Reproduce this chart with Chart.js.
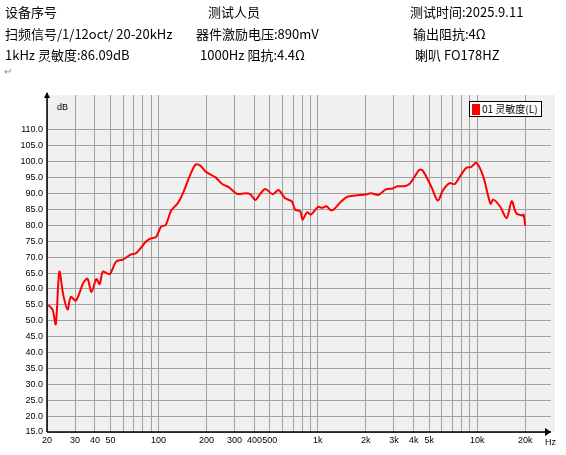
<!DOCTYPE html>
<html><head><meta charset="utf-8">
<script src="https://cdn.jsdelivr.net/npm/chart.js@4/dist/chart.umd.min.js"></script>
<style>
body{margin:0;background:#fff;font-family:"Noto Sans CJK SC",sans-serif;}
#wrap{position:relative;width:566px;height:455px;}
canvas{position:absolute;left:0;top:0;}
.t{position:absolute;font-size:13px;color:#000;white-space:nowrap;line-height:16px;}
.s{position:absolute;font-size:9px;font-family:Arial,"Liberation Sans",sans-serif;}
#legend{position:absolute;left:469px;top:101px;border:1px solid #000;background:#fff;font-size:10px;padding:0 3px 0 2px;line-height:14px;}
#legend i{display:inline-block;width:8px;height:11px;background:#f00;vertical-align:-2px;margin-right:2px;}
</style></head><body>
<div id="wrap">
<canvas id="c" width="566" height="455"></canvas>
<div class="t" style="left:5px;top:4px">设备序号</div>
<div class="t" style="left:208px;top:4px">测试人员</div>
<div class="t" style="left:410px;top:4px">测试时间:2025.9.11</div>
<div class="t" style="left:5px;top:26px">扫频信号/1/12oct/ 20-20kHz</div>
<div class="t" style="left:196px;top:26px">器件激励电压:890mV</div>
<div class="t" style="left:413px;top:26px">输出阻抗:4Ω</div>
<div class="t" style="left:5px;top:47px">1kHz 灵敏度:86.09dB</div>
<div class="t" style="left:200px;top:47px">1000Hz 阻抗:4.4Ω</div>
<div class="t" style="left:415px;top:47px">喇叭 FO178HZ</div>
<div class="s" style="left:4px;top:66px;color:#888;font-size:10px">↵</div>
<div class="s" style="left:57px;top:102px">dB</div>
<div class="s" style="left:545px;top:437px">Hz</div>
<div id="legend"><i></i>01 灵敏度(L)</div>
</div>
<script>
const freqs = [20.4,21.7,22.7,23.9,25.3,26.9,28.2,30.4,33.7,35.9,38,40.8,42.8,44.9,49.4,54.3,59.7,67.4,72.4,83.6,89.8,96.4,104,111,120,132,141,160,171,184,198,228,251,276,311,351,377,405,435,468,522,566,624,687,721,776,802,855,906,1003,1062,1132,1200,1259,1387,1530,1726,1995,2147,2400,2669,2942,3164,3487,3751,4031,4334,4549,5133,5656,6080,6703,7216,7749,8539,9183,9868,10880,12100,12590,13870,15280,16440,17510,19010,19500,20000];
const spl = [54.9,53.4,48.9,65.4,58.1,53.5,57.5,56.3,61.8,63.2,59,63.1,61.5,65.5,64.6,68.6,69.2,70.9,71.2,74.9,75.9,76.3,79.6,80.1,84.6,86.9,89.6,96.4,99.1,98.7,96.9,95.1,93.0,92.0,89.9,90.1,89.8,88.0,89.9,91.4,89.8,91.1,88.5,87.5,84.9,84.4,81.8,84.1,83.4,85.8,85.5,86.0,84.8,85,87.3,89.0,89.4,89.7,90.1,89.6,91.3,91.6,92.3,92.3,93.0,95.2,97.5,97.2,92.3,87.8,91.0,93.3,93.0,95.2,98.1,98.4,99.7,95.5,86.8,88.1,86,82.3,87.6,83.9,83.1,83.4,79.9];
const xTicks = [20,30,40,50,60,70,80,90,100,200,300,400,500,600,700,800,900,1000,2000,3000,4000,5000,6000,7000,8000,9000,10000,20000];
const xLabels = {20:'20',30:'30',40:'40',50:'50',100:'100',200:'200',300:'300',400:'400',500:'500',1000:'1k',2000:'2k',3000:'3k',4000:'4k',5000:'5k',10000:'10k',20000:'20k'};
const yTicks = [15,20,25,30,35,40,45,50,55,60,65,70,75,80,85,90,95,100,105,110];

const frame = {
  id: 'frame',
  beforeDraw(ch) {
    const a = ch.chartArea, c = ch.ctx;
    c.fillStyle = '#f0f0f0';
    c.fillRect(a.left, a.top, a.right - a.left + 4, a.bottom - a.top);
  },
  afterDraw(ch) {
    const a = ch.chartArea, c = ch.ctx;
    c.save();
    c.strokeStyle = '#000'; c.fillStyle = '#000'; c.lineWidth = 1.5;
    c.beginPath();
    c.moveTo(a.left, a.bottom); c.lineTo(a.left, a.top - 2);
    c.moveTo(a.left, a.bottom); c.lineTo(a.right, a.bottom);
    c.stroke();
    c.beginPath(); c.moveTo(a.left - 3, a.top + 3); c.lineTo(a.left, a.top - 3); c.lineTo(a.left + 3, a.top + 3); c.fill();
    c.beginPath(); c.moveTo(a.right - 6, a.bottom - 4); c.lineTo(a.right, a.bottom); c.lineTo(a.right - 6, a.bottom + 4); c.fill();
    c.restore();
  }
};

new Chart(document.getElementById('c'), {
  type: 'line',
  data: { datasets: [{ data: freqs.map((f, i) => ({x: f, y: spl[i]})), borderColor: '#ff0000', borderWidth: 2, pointRadius: 0, tension: 0.3 }] },
  options: {
    responsive: false, animation: false,
    layout: { padding: { top: 95, right: 15, left: 0, bottom: 0 } },
    plugins: { legend: { display: false }, tooltip: { enabled: false } },
    scales: {
      x: {
        type: 'logarithmic', min: 20, max: 29000,
        afterBuildTicks: s => { s.ticks = xTicks.map(v => ({value: v})); },
        afterFit: s => { s.height = 23; },
        grid: { color: '#a0a0a0', lineWidth: 1, drawTicks: false },
        border: { display: false },
        ticks: { autoSkip: false, maxRotation: 0, padding: 3, color: '#000', font: { family: 'Arial', size: 9 }, callback: v => xLabels[v] || '' }
      },
      y: {
        min: 15, max: 121,
        afterBuildTicks: s => { s.ticks = yTicks.map(v => ({value: v})); },
        afterFit: s => { s.width = 47; },
        grid: { color: '#a0a0a0', lineWidth: 1, drawTicks: false },
        border: { display: false },
        ticks: { padding: 4, color: '#000', font: { family: 'Arial', size: 9 }, callback: v => v.toFixed(1) }
      }
    }
  },
  plugins: [frame]
});
</script>
</body></html>
